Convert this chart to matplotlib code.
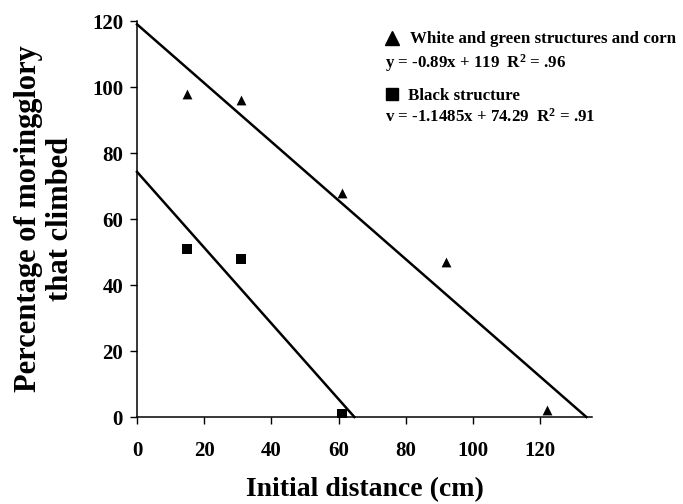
import matplotlib
matplotlib.use("Agg")
import matplotlib.pyplot as plt
import numpy as np
from matplotlib.lines import Line2D

plt.rcParams['font.family'] = ['Liberation Serif', 'DejaVu Serif']
plt.rcParams['font.weight'] = 'bold'
plt.rcParams['mathtext.fontset'] = 'custom'
plt.rcParams['mathtext.rm'] = 'Liberation Serif:bold'
plt.rcParams['mathtext.it'] = 'Liberation Serif:bold'
plt.rcParams['mathtext.bf'] = 'Liberation Serif:bold'

# white & green structures and corn (triangles)
dist_tri = [15, 31, 61, 92, 122]
pct_tri = [98, 96, 68, 47, 2]
# black structure (squares)
dist_sq = [15, 31, 61]
pct_sq = [51, 48, 1]

# regression lines: slope, intercept
fit_tri = [-0.89, 119]
fit_sq = [-1.1485, 74.29]

fig = plt.figure(figsize=(6.83, 5.04), dpi=100)
ax = fig.add_axes([0.2006, 0.1726, 0.6662, 0.7857])

ax.scatter(dist_tri, pct_tri, marker='^', s=50, c='black', lw=0, zorder=3)
ax.scatter(dist_sq, pct_sq, marker='s', s=50, c='black', lw=0, zorder=3)

for slope, icpt in (fit_tri, fit_sq):
    x = np.array([0, -icpt / slope])
    ax.plot(x, slope * x + icpt, color='black', lw=1.8, clip_on=False)

ax.set_xlim(0, 135.4)
ax.set_ylim(0, 120)
ax.set_xticks(range(0, 121, 20))
ax.set_yticks(range(0, 121, 20))
for s in ('top', 'right'):
    ax.spines[s].set_visible(False)
for s in ('left', 'bottom'):
    ax.spines[s].set_linewidth(1.1)
ax.tick_params(direction='out', length=5, width=1.0, labelsize=15)
ax.tick_params(axis='x', pad=12)
ax.tick_params(axis='y', pad=5)
for lab in ax.get_xticklabels() + ax.get_yticklabels():
    lab.set_fontweight('bold')

ax.set_xlabel("Initial distance (cm)", fontsize=20, fontweight='bold', labelpad=12)
ax.set_ylabel("Percentage of moringglory\nthat climbed", fontsize=22,
              fontweight='bold', labelpad=12, linespacing=1.15)

# legend-like annotations (pixel positions)
W, H = 683, 504
def fx(px): return px / W
def fy(py): return 1 - py / H

fs = 12.2
fig.add_artist(Line2D([fx(392)], [fy(38)], marker='^', ms=10, color='black',
                      lw=0, transform=fig.transFigure))
fig.text(fx(410), fy(43), "White and green structures and corn", fontsize=fs,
         fontweight='bold', va='baseline')
fig.text(fx(385), fy(68), r"y = -0.89x + 119  R$^{2}$ = .96", fontsize=fs,
         fontweight='bold', va='baseline')
fig.add_artist(Line2D([fx(392)], [fy(94)], marker='s', ms=8, color='black',
                      lw=0, transform=fig.transFigure))
fig.text(fx(408), fy(100), "Black structure", fontsize=fs,
         fontweight='bold', va='baseline')
fig.text(fx(385), fy(122), r"v = -1.1485x + 74.29  R$^{2}$ = .91", fontsize=fs,
         fontweight='bold', va='baseline')

fig.savefig("out.png", dpi=100)
